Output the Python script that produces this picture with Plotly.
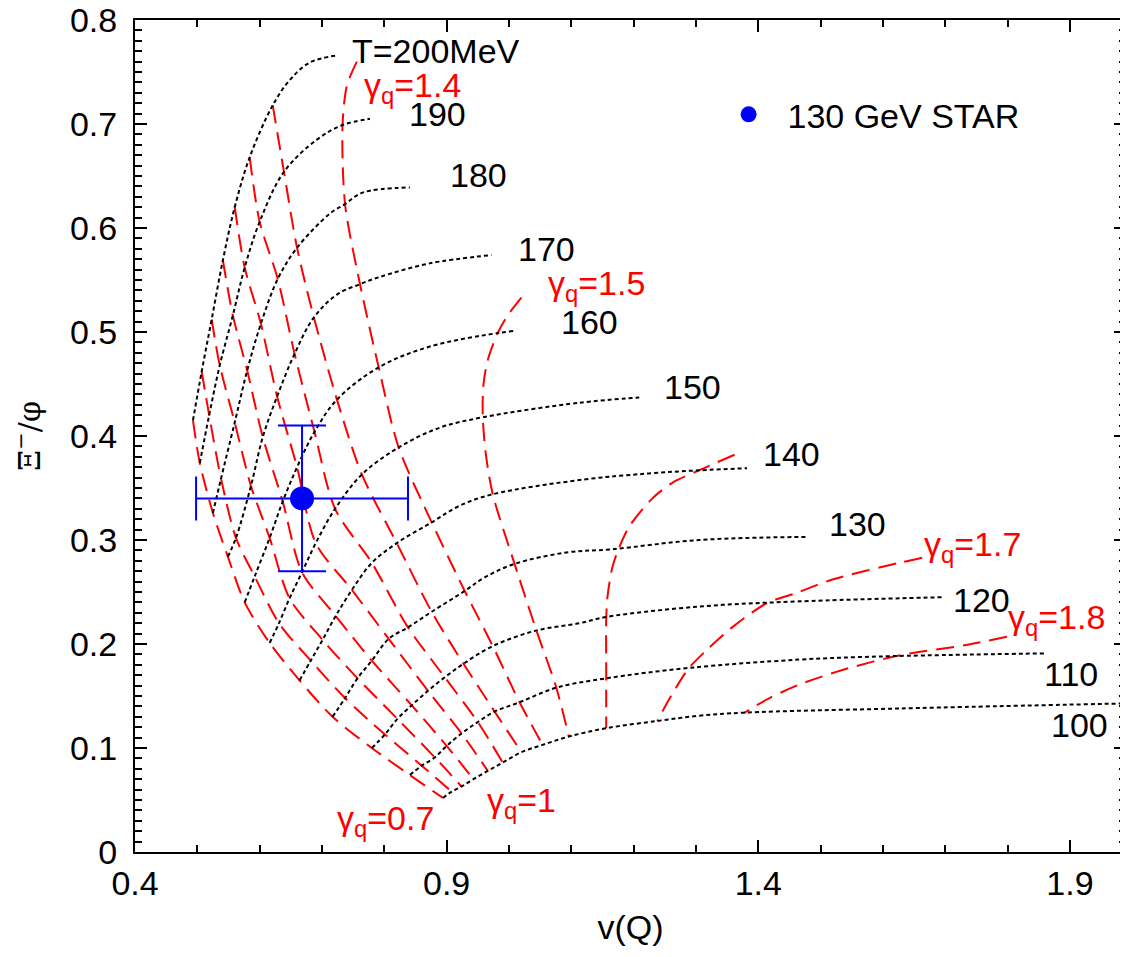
import plotly.graph_objects as go

# ---------------- data ----------------
# Temperature curves (black dotted); for every row the first seven points are
# the crossings with gamma_q = 0.7 ... 1.3, the rest run to the right end.
T_labels = ["T=200MeV", "190", "180", "170", "160", "150", "140", "130", "120", "110", "100"]

T200_x = [0.493, 0.507, 0.523, 0.541, 0.560, 0.584, 0.621, 0.648, 0.680, 0.724]
T200_y = [0.415, 0.462, 0.512, 0.569, 0.620, 0.668, 0.718, 0.742, 0.759, 0.766]
T190_x = [0.504, 0.519, 0.536, 0.557, 0.576, 0.600, 0.639, 0.692, 0.733, 0.777]
T190_y = [0.374, 0.420, 0.468, 0.516, 0.562, 0.606, 0.654, 0.685, 0.699, 0.705]
T180_x = [0.525, 0.538, 0.560, 0.580, 0.602, 0.629, 0.660, 0.713, 0.737, 0.765, 0.841]
T180_y = [0.326, 0.359, 0.413, 0.463, 0.508, 0.551, 0.581, 0.614, 0.623, 0.634, 0.639]
T170_x = [0.549, 0.562, 0.586, 0.605, 0.628, 0.656, 0.687, 0.724, 0.761, 0.793, 0.873, 0.972]
T170_y = [0.284, 0.302, 0.352, 0.399, 0.438, 0.479, 0.514, 0.536, 0.546, 0.553, 0.566, 0.574]
T160_x = [0.576, 0.592, 0.616, 0.637, 0.660, 0.688, 0.724, 0.791, 0.873, 0.982, 1.009]
T160_y = [0.240, 0.265, 0.302, 0.337, 0.370, 0.404, 0.435, 0.466, 0.486, 0.499, 0.501]
T150_x = [0.616, 0.631, 0.648, 0.668, 0.690, 0.721, 0.764, 0.823, 0.889, 0.958, 1.113, 1.209]
T150_y = [0.201, 0.220, 0.244, 0.269, 0.297, 0.330, 0.363, 0.389, 0.408, 0.418, 0.432, 0.437]
T140_x = [0.664, 0.682, 0.701, 0.722, 0.748, 0.780, 0.820, 0.876, 0.921, 0.974, 1.118, 1.225, 1.305, 1.382]
T140_y = [0.165, 0.184, 0.204, 0.227, 0.252, 0.278, 0.297, 0.317, 0.333, 0.344, 0.358, 0.364, 0.367, 0.369]
T130_x = [0.717, 0.737, 0.757, 0.780, 0.807, 0.838, 0.876, 0.929, 0.961, 1.009, 1.092, 1.163, 1.305, 1.479]
T130_y = [0.130, 0.148, 0.167, 0.184, 0.205, 0.216, 0.231, 0.251, 0.264, 0.277, 0.288, 0.291, 0.300, 0.303]
T120_x = [0.780, 0.801, 0.821, 0.844, 0.870, 0.897, 0.927, 0.974, 1.044, 1.113, 1.156, 1.305, 1.466, 1.698]
T120_y = [0.100, 0.113, 0.128, 0.141, 0.155, 0.168, 0.181, 0.198, 0.213, 0.220, 0.226, 0.236, 0.241, 0.245]
T110_x = [0.841, 0.860, 0.881, 0.900, 0.924, 0.950, 0.977, 1.017, 1.076, 1.156, 1.289, 1.466, 1.594, 1.862]
T110_y = [0.074, 0.083, 0.091, 0.102, 0.114, 0.125, 0.135, 0.144, 0.158, 0.167, 0.177, 0.185, 0.188, 0.191]
T100_x = [0.894, 0.908, 0.924, 0.943, 0.966, 0.990, 1.020, 1.054, 1.096, 1.156, 1.238, 1.305, 1.378, 1.626, 2.000]
T100_y = [0.052, 0.058, 0.063, 0.070, 0.078, 0.086, 0.096, 0.103, 0.111, 0.119, 0.126, 0.131, 0.134, 0.138, 0.143]

# gamma_q values whose curves pass through the first seven points of each T row
gamma_grid = [0.7, 0.8, 0.9, 1.0, 1.1, 1.2, 1.3]

# gamma_q curves (red dashed) that are drawn separately
g14_x = [0.756, 0.740, 0.733, 0.737, 0.761, 0.791, 0.823, 0.876, 0.929, 0.974, 1.017, 1.054]
g14_y = [0.760, 0.737, 0.699, 0.623, 0.546, 0.466, 0.389, 0.317, 0.251, 0.198, 0.144, 0.103]
g15_x = [1.020, 0.998, 0.982, 0.966, 0.959, 0.958, 0.963, 0.974, 1.009, 1.044, 1.076, 1.096]
g15_y = [0.533, 0.516, 0.499, 0.473, 0.449, 0.418, 0.382, 0.344, 0.277, 0.213, 0.158, 0.111]
g16_x = [1.362, 1.305, 1.262, 1.230, 1.193, 1.177, 1.166, 1.158, 1.156, 1.156, 1.156, 1.156]
g16_y = [0.382, 0.367, 0.355, 0.340, 0.313, 0.293, 0.274, 0.245, 0.223, 0.185, 0.153, 0.119]
g17_x = [1.663, 1.626, 1.519, 1.461, 1.413, 1.358, 1.317, 1.289, 1.261, 1.238]
g17_y = [0.283, 0.278, 0.262, 0.249, 0.239, 0.216, 0.194, 0.177, 0.151, 0.126]
g18_x = [1.799, 1.733, 1.626, 1.535, 1.466, 1.418, 1.378]
g18_y = [0.207, 0.199, 0.189, 0.175, 0.161, 0.148, 0.134]

# measured point (130 GeV STAR)
star_x = [0.668]
star_y = [0.340]
star_ex = [0.17]
star_ey = [0.07]

# label positions (left edge, vertical centre) in data units
T_label_x = [0.745, 0.836, 0.902, 1.012, 1.081, 1.246, 1.405, 1.511, 1.709, 1.855, 1.866]
T_label_y = [0.770, 0.710, 0.651, 0.580, 0.510, 0.447, 0.383, 0.315, 0.242, 0.171, 0.122]
g_labels = ["1.4", "1.5", "1.7", "1.8", "1", "0.7"]
g_label_x = [0.764, 1.060, 1.663, 1.797, 0.961, 0.721]
g_label_y = [0.735, 0.545, 0.294, 0.224, 0.048, 0.030]

x_ticks = [0.4, 0.9, 1.4, 1.9]
y_ticks = [0, 0.1, 0.2, 0.3, 0.4, 0.5, 0.6, 0.7, 0.8]

# ---------------- figure ----------------
FONT = "Liberation Sans, Arial, sans-serif"
RED = "#ff0000"

rows_x = [T200_x, T190_x, T180_x, T170_x, T160_x, T150_x, T140_x, T130_x, T120_x, T110_x, T100_x]
rows_y = [T200_y, T190_y, T180_y, T170_y, T160_y, T150_y, T140_y, T130_y, T120_y, T110_y, T100_y]

fig = go.Figure()

# gamma curves through the grid
for k, g in enumerate(gamma_grid):
    fig.add_trace(go.Scatter(
        x=[rx[k] for rx in rows_x], y=[ry[k] for ry in rows_y],
        mode="lines", line=dict(color=RED, width=2, dash="18px,9px", shape="spline", smoothing=0.8),
        showlegend=False, hoverinfo="skip"))

for gx, gy in [(g14_x, g14_y), (g15_x, g15_y), (g16_x, g16_y), (g17_x, g17_y), (g18_x, g18_y)]:
    fig.add_trace(go.Scatter(
        x=gx, y=gy, mode="lines",
        line=dict(color=RED, width=2, dash="18px,9px", shape="spline", smoothing=0.8),
        showlegend=False, hoverinfo="skip"))

# temperature curves
for rx, ry in zip(rows_x, rows_y):
    fig.add_trace(go.Scatter(
        x=rx, y=ry, mode="lines",
        line=dict(color="black", width=2, dash="4px,3px", shape="spline", smoothing=1.0),
        showlegend=False, hoverinfo="skip"))

# data point
fig.add_trace(go.Scatter(
    x=star_x, y=star_y, mode="markers", name="\u00a0\u00a0130 GeV STAR",
    marker=dict(color="#0000ff", size=24),
    error_x=dict(type="data", array=star_ex, color="#0000ff", thickness=2, width=22),
    error_y=dict(type="data", array=star_ey, color="#0000ff", thickness=2, width=24),
    showlegend=True))

# labels
for txt, lx, ly in zip(T_labels, T_label_x, T_label_y):
    fig.add_annotation(x=lx, y=ly, text=txt, showarrow=False, xanchor="left", yanchor="middle",
                       font=dict(family=FONT, size=34, color="black"))
for txt, lx, ly in zip(g_labels, g_label_x, g_label_y):
    fig.add_annotation(x=lx, y=ly, text="γ<sub>q</sub>=" + txt, showarrow=False,
                       xanchor="left", yanchor="middle",
                       font=dict(family=FONT, size=34, color=RED))

axis_common = dict(
    showline=True, linecolor="black", linewidth=2, mirror="allticks",
    ticks="inside", ticklen=12, tickwidth=1.5, tickcolor="black",
    showgrid=False, zeroline=False, ticklabeloverflow="allow",
    tickfont=dict(family=FONT, size=34, color="black"),
)

fig.update_xaxes(
    range=[0.4, 1.99], tickvals=x_ticks, ticktext=[str(v) for v in x_ticks],
    minor=dict(ticks="inside", ticklen=7, tickwidth=1.5, tickcolor="black", dtick=0.1, tick0=0.4),
    title=dict(text="v(Q)", font=dict(family=FONT, size=34, color="black"), standoff=14),
    ticklabelstandoff=0,
    **axis_common)
fig.update_yaxes(
    range=[0, 0.8], tickvals=y_ticks, ticktext=["0"] + [str(v) for v in y_ticks[1:]],
    minor=dict(ticks="inside", ticklen=7, tickwidth=1.5, tickcolor="black", dtick=0.01, tick0=0),
    title=dict(text="Ξ<sup>−</sup>/φ", font=dict(family="DejaVu Serif, serif", size=30, color="black"), standoff=20),
    ticklabelstandoff=9,
    **axis_common)

# the page adds an 8 px body margin, so the figure is sized to fill the window from there
fig.update_layout(
    width=1120, height=949,
    margin=dict(l=127, r=2, t=12, b=105, autoexpand=False),
    plot_bgcolor="white", paper_bgcolor="white",
    font=dict(family=FONT, size=34, color="black"),
    legend=dict(x=0.599, y=0.921, xanchor="left", yanchor="top",
                bgcolor="rgba(0,0,0,0)", font=dict(family=FONT, size=34, color="black"),
                itemsizing="trace"),
)

fig.write_html("out.html")
